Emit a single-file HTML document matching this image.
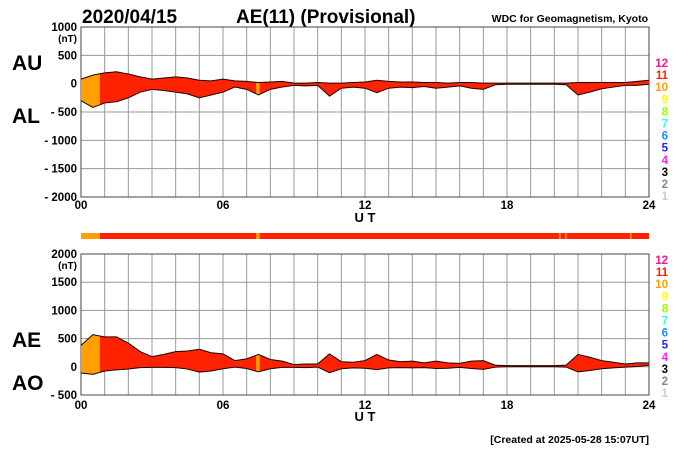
<!DOCTYPE html>
<html><head><meta charset="utf-8"><style>
body{margin:0;background:#fff;}
svg{display:block;font-family:"Liberation Sans",Arial,sans-serif;font-weight:bold;}
</style></head><body>
<svg id="c" width="700" height="450" viewBox="0 0 700 450">
<text x="82" y="23" font-size="19">2020/04/15</text>
<text x="236" y="23" font-size="19">AE(11) (Provisional)</text>
<text x="648" y="22" font-size="10.5" text-anchor="end">WDC for Geomagnetism, Kyoto</text>
<text x="12" y="70" font-size="21">AU</text>
<text x="12" y="123" font-size="21">AL</text>
<text x="12" y="347" font-size="21">AE</text>
<text x="12" y="390" font-size="21">AO</text>
<text x="649" y="443" font-size="10.5" text-anchor="end">[Created at 2025-05-28 15:07UT]</text>
<g id="g"></g>
</svg>
<script>
const hours=[0,0.5,1,1.5,2,2.5,3,3.5,4,4.5,5,5.5,6,6.5,7,7.5,8,8.5,9,9.5,10,10.5,11,11.5,12,12.5,13,13.5,14,14.5,15,15.5,16,16.5,17,17.5,18,18.5,19,19.5,20,20.5,21,21.5,22,22.5,23,23.5,24];
const auValues=[80,150,190,210,170,120,80,100,120,100,60,50,80,50,40,20,30,40,10,10,20,10,10,20,30,60,40,30,30,20,20,10,20,20,10,10,10,10,10,10,10,10,20,20,20,20,20,40,60];
const alValues=[-300,-420,-340,-320,-250,-150,-100,-120,-150,-180,-250,-200,-150,-60,-100,-200,-100,-60,-30,-40,-30,-220,-80,-60,-80,-160,-80,-60,-70,-50,-80,-60,-40,-80,-100,-20,-10,-10,-10,-10,-10,-20,-200,-150,-90,-60,-30,-30,-10];
const orangeSpans=[[0,0.8],[7.4,7.55]];
const stripOrange=[[0,0.8],[7.4,7.55],[20.2,20.27],[20.45,20.52],[23.2,23.26]];
const topTicks=["1000","500","0","- 500","- 1000","- 1500","- 2000"];
const botTicks=["2000","1500","1000","500","0","- 500"];
const xTicks=["00","06","12","18","24"];
const legend=["12","11","10","9","8","7","6","5","4","3","2","1"];
const legendColors=["#ff1493","#ff2200","#ffa000","#ffff00","#99ff00","#33ffdd","#1e90ff","#2222ff","#ff22ff","#000","#888","#ccc"];

const NS="http://www.w3.org/2000/svg";
const g=document.getElementById('g');
function el(t,a,p){const e=document.createElementNS(NS,t);for(const k in a)e.setAttribute(k,a[k]);(p||g).appendChild(e);return e;}
const X0=81,X1=649;
const x=h=>X0+(X1-X0)*h/24;
function panel(name,top,bot,vmax,vmin,ticks,upper,lower,tickY,utY,legY){
  const y=v=>top+(bot-top)*(vmax-v)/(vmax-vmin);
  const grid=el('g',{});
  
  
  for(let h=0;h<=24;h++)el('line',{x1:x(h),x2:x(h),y1:top,y2:bot,stroke:'#999','stroke-width':1},grid);
  for(let v=vmax;v>=vmin;v-=500)el('line',{x1:X0,x2:X1,y1:y(v),y2:y(v),stroke:'#999','stroke-width':1},grid);
  el('rect',{x:X0,y:top,width:X1-X0,height:bot-top,fill:'none',stroke:'#444'},grid);
  ticks.forEach((t,i)=>{const v=vmax-500*i;const tx=el('text',{x:77,y:y(v)+4,'font-size':11.5,'text-anchor':'end'});tx.textContent=t;
    
    });
  const u=el('text',{x:77,y:y(vmax)+15,'font-size':10,'text-anchor':'end'});u.textContent='(nT)';
  
  
  let d='M'+hours.map((h,i)=>x(h)+','+y(upper[i])).join('L');
  d+='L'+hours.slice().reverse().map((h,i)=>x(h)+','+y(lower[hours.length-1-i])).join('L')+'Z';
  const cid=name+'clip';
  const cp=el('clipPath',{id:cid});el('path',{d:d},cp);
  const area=el('path',{d:d,fill:'#ff2200'});
  
  
  orangeSpans.forEach(s=>{const r=el('rect',{x:x(s[0]),y:top,width:x(s[1])-x(s[0]),height:bot-top,fill:'#ffa000','clip-path':'url(#'+cid+')'});
    
    });
  const l1=el('path',{d:'M'+hours.map((h,i)=>x(h)+','+y(upper[i])).join('L'),fill:'none',stroke:'#200',"stroke-width":1});
  
  
  const l2=el('path',{d:'M'+hours.map((h,i)=>x(h)+','+y(lower[i])).join('L'),fill:'none',stroke:'#200',"stroke-width":1});
  
  
  xTicks.forEach((t,i)=>{const tx=el('text',{x:x(i*6),y:tickY,'font-size':11.5,'text-anchor':'middle'});tx.textContent=t;
    
    });
  const ut=el('text',{x:x(12),y:utY,'font-size':13,'text-anchor':'middle'});ut.textContent='U T';
  
  
  legend.forEach((t,i)=>{const tx=el('text',{x:668,y:legY+i*12.1,'font-size':11.5,'text-anchor':'end',fill:legendColors[i]});tx.textContent=t;
    
    });
}
panel('top',27,197,1000,-2000,topTicks,auValues,alValues,209,222,67);
const ae=auValues.map((v,i)=>v-alValues[i]);
const ao=auValues.map((v,i)=>(v+alValues[i])/2);
panel('bottom',254,395,2000,-500,botTicks,ae,ao,409,421,264);
const strip=el('rect',{x:X0,y:233,width:X1-X0,height:6,fill:'#ff2200'});


stripOrange.forEach(s=>{const r=el('rect',{x:x(s[0]),y:233,width:Math.max(1,x(s[1])-x(s[0])),height:6,fill:'#ffa000'});
  
  });
</script>
</body></html>
